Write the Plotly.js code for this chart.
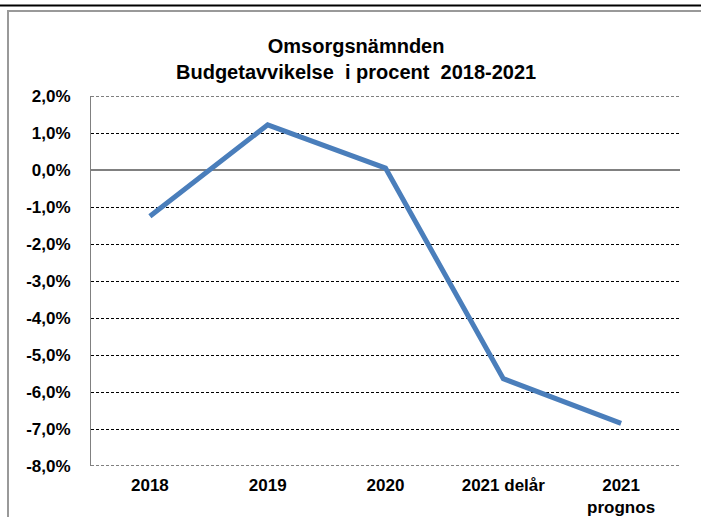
<!DOCTYPE html>
<html><head><meta charset="utf-8">
<script src="https://cdn.plot.ly/plotly-3.0.1.min.js"></script>
<style>html,body{margin:0;padding:0;background:#fff;}#c{width:701px;height:517px;}</style>
</head><body><div id="c"></div>
<script>
const categories = ["2018", "2019", "2020", "2021 delår", "2021<br>prognos"];
const values = [-1.25, 1.22, 0.05, -5.64, -6.85];
const yTicks = [2, 1, 0, -1, -2, -3, -4, -5, -6, -7, -8];

const L = 91, R = 680, T = 96, B = 466;
const px = x => (x - L) / (R - L);
const py = y => (B - y) / (B - T);

const trace = {
  x: categories.map((c, i) => i),
  y: values,
  type: 'scatter', mode: 'lines',
  line: {color: '#4a7ebb', width: 5},
  hoverinfo: 'skip'
};
const font = {family: 'Liberation Sans, Arial, sans-serif', size: 17, color: '#000'};
const xfont = {family: 'Liberation Sans, Arial, sans-serif', size: 17, color: '#000', lineposition: 'none'};
const dash = '3px,2px';
const layout = {
  width: 701, height: 517,
  margin: {l: L, r: 701 - R, t: T, b: 517 - B},
  paper_bgcolor: '#fff', plot_bgcolor: '#fff',
  separators: ', ',
  showlegend: false,
  font: font,
  title: {
    text: '<b>Omsorgsnämnden<br>Budgetavvikelse  i procent  2018-2021</b>',
    font: {family: 'Liberation Sans, Arial, sans-serif', size: 20, color: '#000'},
    x: 0.508, xref: 'container', xanchor: 'center',
    y: 1 - 53 / 517, yref: 'container', yanchor: 'top'
  },
  xaxis: {
    range: [-0.5, 4.5],
    tickmode: 'array',
    tickvals: categories.map((c, i) => i),
    ticktext: categories.map(c => '<b>' + c + '</b>'),
    showgrid: false, zeroline: false, showline: false,
    ticks: '', ticklabelstandoff: 7,
    tickfont: xfont
  },
  yaxis: {
    range: [-8, 2],
    tickmode: 'array',
    tickvals: yTicks,
    ticktext: yTicks.map(v => '<b>' + v.toFixed(1).replace('.', ',') + '%</b>'),
    showgrid: true, gridcolor: '#000', gridwidth: 1, griddash: dash,
    zeroline: true, zerolinecolor: '#808080', zerolinewidth: 2,
    showline: true, linecolor: '#808080', linewidth: 1,
    ticks: '', ticklabelstandoff: 16,
    tickfont: font
  },
  shapes: [
    {type: 'line', xref: 'paper', yref: 'y', x0: 0, x1: 1, y0: yTicks[0], y1: yTicks[0], line: {color: '#000', width: 1, dash: dash}},
    {type: 'line', xref: 'paper', yref: 'y', x0: 0, x1: 1, y0: yTicks[yTicks.length - 1], y1: yTicks[yTicks.length - 1], line: {color: '#000', width: 1, dash: dash}},
    {type: 'line', xref: 'paper', yref: 'paper', x0: px(0), x1: px(701), y0: py(5.5), y1: py(5.5), line: {color: '#000', width: 2}},
    {type: 'line', xref: 'paper', yref: 'paper', x0: px(7), x1: px(701), y0: py(11), y1: py(11), line: {color: '#999', width: 2}},
    {type: 'line', xref: 'paper', yref: 'paper', x0: px(8), x1: px(8), y0: py(10), y1: py(517), line: {color: '#999', width: 2}}
  ]
};
Plotly.newPlot('c', [trace], layout, {staticPlot: true});
</script></body></html>
